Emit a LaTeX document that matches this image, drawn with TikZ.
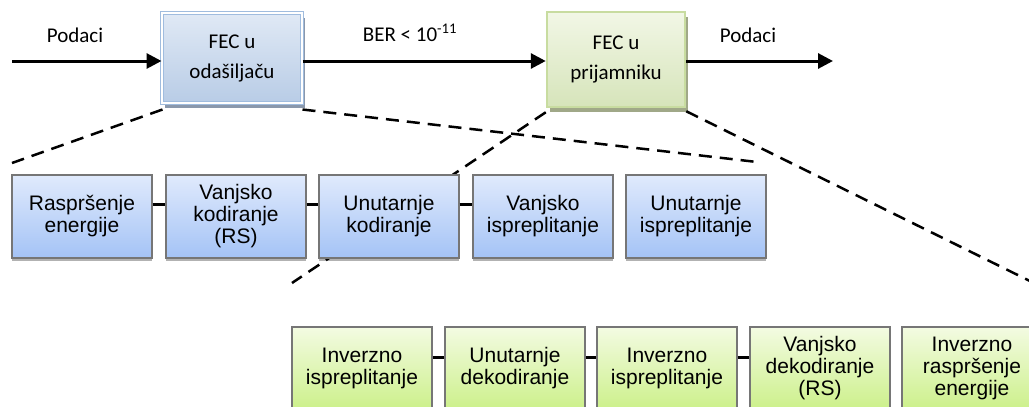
\documentclass[tikz,border=0pt]{standalone}
\usepackage{fontspec}
\setmainfont{Carlito}
\newfontfamily\boxfont{Liberation Sans}
\usetikzlibrary{arrows.meta,shadows,calc}

\definecolor{txtop}{RGB}{224,233,245}
\definecolor{txbot}{RGB}{184,204,230}
\definecolor{txline}{RGB}{160,188,222}
\definecolor{txshadow}{RGB}{138,152,172}
\definecolor{rxtop}{RGB}{242,247,230}
\definecolor{rxbot}{RGB}{214,228,186}
\definecolor{rxline}{RGB}{200,220,160}
\definecolor{rxshadow}{RGB}{160,168,136}
\definecolor{bluetop}{RGB}{224,234,252}
\definecolor{bluebot}{RGB}{164,195,246}
\definecolor{greentop}{RGB}{243,251,226}
\definecolor{greenbot}{RGB}{204,240,138}
\definecolor{boxline}{RGB}{118,118,118}

\tikzset{
  lbl/.style={font=\fontsize{21}{30}\selectfont, inner sep=0pt},
  fecbox/.style={minimum width=140pt, minimum height=90pt, inner sep=0pt,
    align=center, font=\fontsize{21}{30}\selectfont},
  txfec/.style={fecbox, top color=txtop, bottom color=txbot,
    draw=txline, double=white, double distance=1.2pt, line width=1pt,
    drop shadow={shadow xshift=3pt, shadow yshift=-5pt, fill=txshadow, opacity=1}},
  rxfec/.style={fecbox, minimum width=138pt, minimum height=95pt,
    top color=rxtop, bottom color=rxbot, draw=rxline, line width=2.5pt,
    drop shadow={shadow xshift=3pt, shadow yshift=-5pt, fill=rxshadow, opacity=1}},
  stagebox/.style={draw=boxline, line width=1.1pt, minimum width=140pt,
    minimum height=83pt, inner sep=0pt, align=center,
    font=\boxfont\fontsize{21}{22}\selectfont,
    drop shadow={shadow xshift=0pt, shadow yshift=-3pt, opacity=0.3, fill=black}},
  txstage/.style={stagebox, top color=bluetop, bottom color=bluebot},
  rxstage/.style={stagebox, top color=greentop, bottom color=greenbot},
  flow/.style={line width=3pt, -{Triangle[length=15pt,width=15pt]}},
  link/.style={line width=3pt},
  zoomline/.style={line width=2.5pt, dash pattern=on 13pt off 8pt},
}

\begin{document}
\begin{tikzpicture}[x=1pt, y=-1pt]
  \clip (0,0) rectangle (1029,407);
  \fill[white] (0,0) rectangle (1029,407);

  % free ends of the signal arrows and of the zoom lines
  \coordinate (inL) at (12,61);
  \coordinate (outR) at (833,61);
  \coordinate (txL) at (12,163);
  \coordinate (txR) at (757,162);
  \coordinate (rxL) at (292,283);
  \coordinate (rxR) at (1040,286);

  % top level: encoder and decoder
  \node[txfec] (tx) at (232,58) {FEC u\\odašiljaču};
  \node[rxfec] (rx) at (616,59.5) {FEC u\\prijamniku};

  \node[lbl] (p1) at (75,35) {Podaci};
  \node[lbl] (ber) at (410,33) {BER < 10\textsuperscript{-11}};
  \node[lbl] (p2) at (748,35) {Podaci};

  \draw[flow] (inL) -- (inL -| tx.west);
  \draw[flow] (tx.east |- inL) -- (rx.west |- inL);
  \draw[flow] (rx.east |- inL) -- (outR);

  % zoom lines (drawn below the stage boxes)
  \draw[zoomline] ($(tx.south west)+(1,6)$) -- (txL);
  \draw[zoomline] ($(tx.south east)+(0,6)$) -- (txR);
  \draw[zoomline] ($(rx.south west)+(0,4)$) -- (rxL);
  \draw[zoomline] ($(rx.south east)+(0,3)$) -- (rxR);

  % transmitter chain
  \node[txstage] (b1) at (82,216.5)  {Raspršenje\\energije};
  \node[txstage] (b2) at (236,216.5) {Vanjsko\\kodiranje\\(RS)};
  \node[txstage] (b3) at (389,216.5) {Unutarnje\\kodiranje};
  \node[txstage] (b4) at (543,216.5) {Vanjsko\\ispreplitanje};
  \node[txstage] (b5) at (696,216.5) {Unutarnje\\ispreplitanje};

  \draw[link] ($(b1.north east)+(0,30)$) -- ($(b2.north west)+(0,30)$);
  \draw[link] ($(b2.north east)+(0,30)$) -- ($(b3.north west)+(0,30)$);
  \draw[link] ($(b3.north east)+(0,30)$) -- ($(b4.north west)+(0,30)$);

  % receiver chain
  \node[rxstage] (g1) at (362,368.5) {Inverzno\\ispreplitanje};
  \node[rxstage] (g2) at (515,368.5) {Unutarnje\\dekodiranje};
  \node[rxstage] (g3) at (667,368.5) {Inverzno\\ispreplitanje};
  \node[rxstage] (g4) at (820,368.5) {Vanjsko\\dekodiranje\\(RS)};
  \node[rxstage] (g5) at (972,368.5) {Inverzno\\raspršenje\\energije};

  \draw[link] ($(g1.north east)+(0,31)$) -- ($(g2.north west)+(0,31)$);
  \draw[link] ($(g2.north east)+(0,31)$) -- ($(g3.north west)+(0,31)$);
  \draw[link] ($(g3.north east)+(0,31)$) -- ($(g4.north west)+(0,31)$);
\end{tikzpicture}
\end{document}
